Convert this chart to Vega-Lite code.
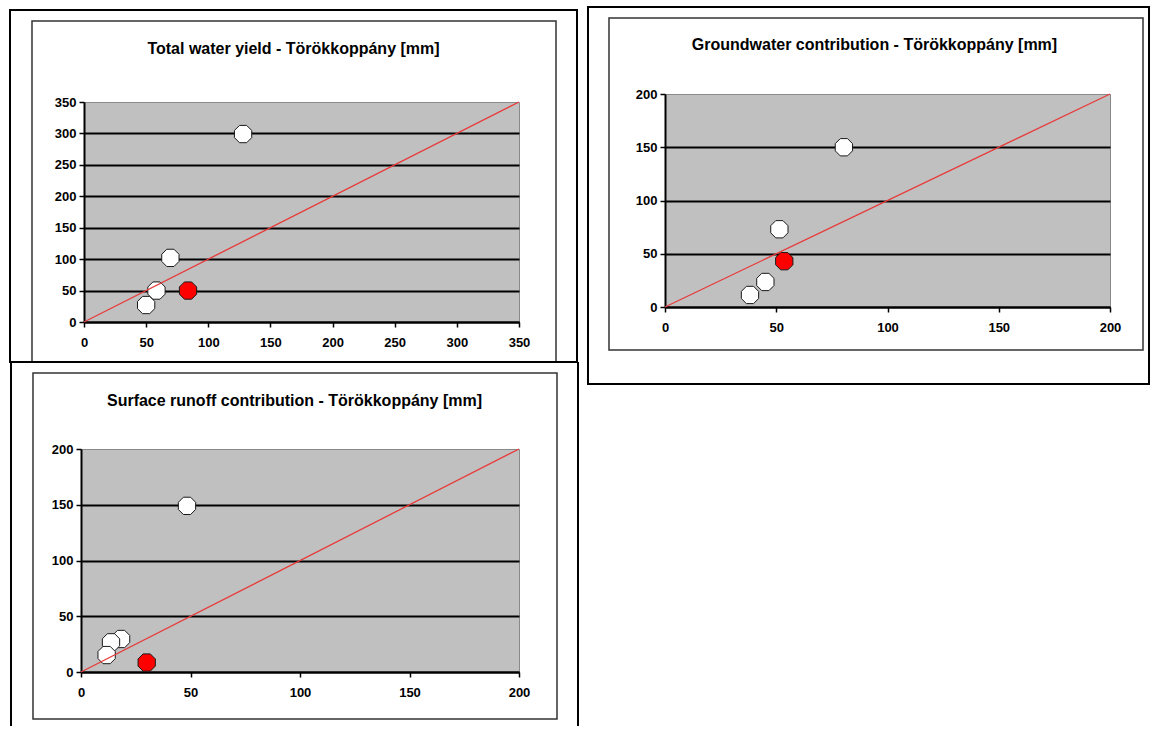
{
  "$schema": "https://vega.github.io/schema/vega-lite/v6.json",
  "background": "white",
  "padding": {"left": 8, "top": 5, "right": 0, "bottom": 0},
  "spacing": 6,
  "config": {
    "font": "Liberation Sans",
    "view": {"fill": "#c0c0c0", "stroke": "#8a8a8a", "strokeWidth": 1},
    "axis": {
      "title": null,
      "domainColor": "black", "domainWidth": 2,
      "tickColor": "black", "tickWidth": 1.5, "tickSize": 5,
      "labelFont": "Liberation Sans", "labelFontSize": 13, "labelFontWeight": "bold", "labelColor": "black",
      "labelFlush": false, "labelOverlap": false
    },
    "axisX": {"grid": false, "labelPadding": 9},
    "axisY": {"labelPadding": 3, "gridWidth": 1.8},
    "title": {"font": "Liberation Sans", "fontSize": 16, "fontWeight": "bold", "color": "black", "anchor": "middle", "frame": "bounds", "baseline": "alphabetic"}
  },
  "hconcat": [
    {
      "spacing": -4,
      "vconcat": [
        {
          "spacing": -74,
          "hconcat": [
            {
              "width": 1, "height": 1,
              "view": {"fill": null, "stroke": null},
              "data": {"values": [{}]},
              "mark": {"type": "rule", "opacity": 0},
              "encoding": {}
            },
            {
              "width": 435, "height": 220,
              "title": {"text": "Total water yield - Törökkoppány [mm]", "offset": -47.5},
              "layer": [
                {
                  "data": {"values": [{"highlight": "no", "x": 128, "y": 299}, {"highlight": "no", "x": 69.5, "y": 102}, {"highlight": "no", "x": 50, "y": 27}, {"highlight": "no", "x": 58.3, "y": 50}, {"highlight": "yes", "x": 83.7, "y": 50}]},
                  "mark": {"type": "point", "shape": "M-0.383,-0.924L0.383,-0.924L0.924,-0.383L0.924,0.383L0.383,0.924L-0.383,0.924L-0.924,0.383L-0.924,-0.383Z", "filled": true, "size": 350, "stroke": "#1a1a1a", "strokeWidth": 1, "opacity": 1},
                  "encoding": {
                    "x": {"field": "x", "type": "quantitative", "title": null, "scale": {"domain": [0, 350], "nice": false}, "axis": {"values": [0, 50, 100, 150, 200, 250, 300, 350], "tickCount": 8}},
                    "y": {"field": "y", "type": "quantitative", "title": null, "scale": {"domain": [0, 350], "nice": false}, "axis": {"values": [0, 50, 100, 150, 200, 250, 300, 350], "tickCount": 8, "gridColor": {"condition": {"test": "datum.value >= 350", "value": "transparent"}, "value": "black"}}},
                    "fill": {"field": "highlight", "type": "nominal", "scale": {"domain": ["no", "yes"], "range": ["white", "#ff0000"]}, "legend": null}
                  }
                },
                {
                  "data": {"values": [{}]},
                  "mark": {"type": "rule", "color": "#e83a3a", "strokeWidth": 1.3},
                  "encoding": {"x": {"datum": 0}, "y": {"datum": 0, "axis": {"values": [0, 50, 100, 150, 200, 250, 300, 350], "tickCount": 8, "gridColor": {"condition": {"test": "datum.value >= 350", "value": "transparent"}, "value": "black"}}}, "x2": {"datum": 350}, "y2": {"datum": 350}}
                },
                {
                  "data": {"values": [{}]},
                  "mark": {"type": "rect", "filled": false, "stroke": "#333333", "strokeWidth": 1.5},
                  "encoding": {"x": {"datum": -41.84}, "x2": {"datum": 379.77}, "y": {"datum": 478.86, "axis": {"values": [0, 50, 100, 150, 200, 250, 300, 350], "tickCount": 8, "gridColor": {"condition": {"test": "datum.value >= 350", "value": "transparent"}, "value": "black"}}}, "y2": {"datum": -63.64}}
                },
                {
                  "data": {"values": [{}]},
                  "mark": {"type": "rect", "filled": false, "stroke": "black", "strokeWidth": 2},
                  "encoding": {"x": {"datum": -59.54}, "x2": {"datum": 396.67}, "y": {"datum": 496.36, "axis": {"values": [0, 50, 100, 150, 200, 250, 300, 350], "tickCount": 8, "gridColor": {"condition": {"test": "datum.value >= 350", "value": "transparent"}, "value": "black"}}}, "y2": {"datum": -63.64}}
                }
              ]
            }
          ]
        },
        {
          "width": 438, "height": 223,
          "title": {"text": "Surface runoff contribution - Törökkoppány [mm]", "offset": -48.5},
          "layer": [
            {
              "data": {"values": [{"highlight": "no", "x": 48.4, "y": 149}, {"highlight": "no", "x": 18.3, "y": 29.6}, {"highlight": "no", "x": 13.7, "y": 26.6}, {"highlight": "no", "x": 11.7, "y": 15.2}, {"highlight": "yes", "x": 30, "y": 8.5}]},
              "mark": {"type": "point", "shape": "M-0.383,-0.924L0.383,-0.924L0.924,-0.383L0.924,0.383L0.383,0.924L-0.383,0.924L-0.924,0.383L-0.924,-0.383Z", "filled": true, "size": 350, "stroke": "#1a1a1a", "strokeWidth": 1, "opacity": 1},
              "encoding": {
                "x": {"field": "x", "type": "quantitative", "title": null, "scale": {"domain": [0, 200], "nice": false}, "axis": {"values": [0, 50, 100, 150, 200]}},
                "y": {"field": "y", "type": "quantitative", "title": null, "scale": {"domain": [0, 200], "nice": false}, "axis": {"values": [0, 50, 100, 150, 200], "gridColor": {"condition": {"test": "datum.value >= 200", "value": "transparent"}, "value": "black"}}},
                "fill": {"field": "highlight", "type": "nominal", "scale": {"domain": ["no", "yes"], "range": ["white", "#ff0000"]}, "legend": null}
              }
            },
            {
              "data": {"values": [{}]},
              "mark": {"type": "rule", "color": "#e83a3a", "strokeWidth": 1.3},
              "encoding": {"x": {"datum": 0}, "y": {"datum": 0}, "x2": {"datum": 200}, "y2": {"datum": 200}}
            },
            {
              "data": {"values": [{}]},
              "mark": {"type": "rect", "filled": false, "stroke": "#333333", "strokeWidth": 1.5},
              "encoding": {"x": {"datum": -21.92}, "x2": {"datum": 217.35}, "y": {"datum": 268.16}, "y2": {"datum": -42.15}}
            },
            {
              "data": {"values": [{}]},
              "mark": {"type": "rule", "color": "black", "strokeWidth": 2},
              "encoding": {"x": {"datum": -31.96}, "x2": {"datum": 226.94}, "y": {"datum": 278.03}}
            },
            {
              "data": {"values": [{}]},
              "mark": {"type": "rule", "color": "black", "strokeWidth": 2},
              "encoding": {"x": {"datum": -31.96}, "y": {"datum": 278.03}, "y2": {"datum": -48.43}}
            },
            {
              "data": {"values": [{}]},
              "mark": {"type": "rule", "color": "black", "strokeWidth": 2},
              "encoding": {"x": {"datum": 226.94}, "y": {"datum": 278.03}, "y2": {"datum": -48.43}}
            }
          ]
        }
      ]
    },
    {
      "concat": [
        {
          "width": 1, "height": 1,
          "view": {"fill": null, "stroke": null},
          "data": {"values": [{}]},
          "mark": {"type": "rule", "opacity": 0},
          "encoding": {}
        },
        {
          "width": 445, "height": 213,
          "title": {"text": "Groundwater contribution - Törökkoppány [mm]", "offset": -47, "dx": 6},
          "layer": [
            {
              "data": {"values": [{"highlight": "no", "x": 80.4, "y": 150}, {"highlight": "no", "x": 51.4, "y": 73}, {"highlight": "no", "x": 45.1, "y": 23.5}, {"highlight": "no", "x": 38.2, "y": 11.3}, {"highlight": "yes", "x": 53.6, "y": 43}]},
              "mark": {"type": "point", "shape": "M-0.383,-0.924L0.383,-0.924L0.924,-0.383L0.924,0.383L0.383,0.924L-0.383,0.924L-0.924,0.383L-0.924,-0.383Z", "filled": true, "size": 350, "stroke": "#1a1a1a", "strokeWidth": 1, "opacity": 1},
              "encoding": {
                "x": {"field": "x", "type": "quantitative", "title": null, "scale": {"domain": [0, 200], "nice": false}, "axis": {"values": [0, 50, 100, 150, 200]}},
                "y": {"field": "y", "type": "quantitative", "title": null, "scale": {"domain": [0, 200], "nice": false}, "axis": {"values": [0, 50, 100, 150, 200], "gridColor": {"condition": {"test": "datum.value >= 200", "value": "transparent"}, "value": "black"}}},
                "fill": {"field": "highlight", "type": "nominal", "scale": {"domain": ["no", "yes"], "range": ["white", "#ff0000"]}, "legend": null}
              }
            },
            {
              "data": {"values": [{}]},
              "mark": {"type": "rule", "color": "#e83a3a", "strokeWidth": 1.3},
              "encoding": {"x": {"datum": 0}, "y": {"datum": 0}, "x2": {"datum": 200}, "y2": {"datum": 200}}
            },
            {
              "data": {"values": [{}]},
              "mark": {"type": "rect", "filled": false, "stroke": "#333333", "strokeWidth": 1.5},
              "encoding": {"x": {"datum": -25.17}, "x2": {"datum": 214.83}, "y": {"datum": 271.36}, "y2": {"datum": -40.38}}
            },
            {
              "data": {"values": [{}]},
              "mark": {"type": "rect", "filled": false, "stroke": "black", "strokeWidth": 2},
              "encoding": {"x": {"datum": -34.61}, "x2": {"datum": 217.53}, "y": {"datum": 281.69}, "y2": {"datum": -72.3}}
            }
          ]
        }
      ],
      "columns": 1,
      "align": "none",
      "spacing": -98
    }
  ]
}
